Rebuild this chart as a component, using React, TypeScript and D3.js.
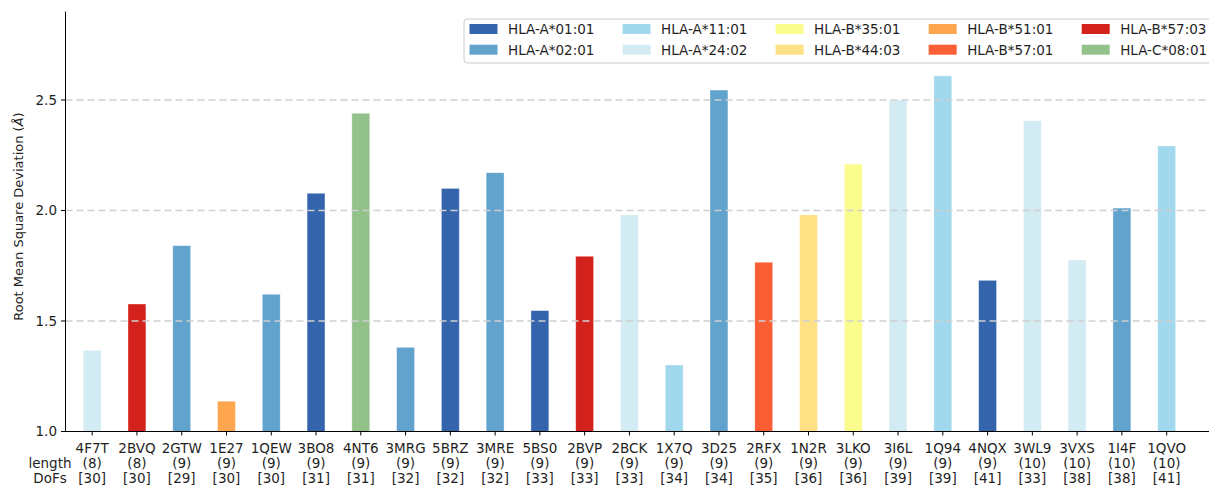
import React from "react";
import * as d3 from "d3";

const pdbIds = ["4F7T","2BVQ","2GTW","1E27","1QEW","3BO8","4NT6","3MRG","5BRZ","3MRE","5BS0","2BVP","2BCK","1X7Q","3D25","2RFX","1N2R","3LKO","3I6L","1Q94","4NQX","3WL9","3VXS","1I4F","1QVO"];
const lengths = [8,8,9,9,9,9,9,9,9,9,9,9,9,9,9,9,9,9,9,9,9,10,10,10,10];
const dofs = [30,30,29,30,30,31,31,32,32,32,33,33,33,34,34,35,36,36,39,39,41,33,38,38,41];
const rmsd = [1.367,1.577,1.841,1.137,1.621,2.078,2.440,1.381,2.100,2.171,1.547,1.793,1.980,1.301,2.545,1.766,1.980,2.210,2.500,2.609,1.684,2.406,1.776,2.011,2.292];
const alleles = ["HLA-A*24:02","HLA-B*57:03","HLA-A*02:01","HLA-B*51:01","HLA-A*02:01","HLA-A*01:01","HLA-C*08:01","HLA-A*02:01","HLA-A*01:01","HLA-A*02:01","HLA-A*01:01","HLA-B*57:03","HLA-A*24:02","HLA-A*11:01","HLA-A*02:01","HLA-B*57:01","HLA-B*44:03","HLA-B*35:01","HLA-A*24:02","HLA-A*11:01","HLA-A*01:01","HLA-A*24:02","HLA-A*24:02","HLA-A*02:01","HLA-A*11:01"];
const legendAlleles = ["HLA-A*01:01","HLA-A*02:01","HLA-A*11:01","HLA-A*24:02","HLA-B*35:01","HLA-B*44:03","HLA-B*51:01","HLA-B*57:01","HLA-B*57:03","HLA-C*08:01"];
const alleleColors = ["#3465ac","#62a3ce","#a2d8ee","#d3ebf2","#fafd8e","#fee085","#fda54f","#f95e34","#d3211c","#92c28a"];
const yTicks = [1.0, 1.5, 2.0, 2.5];

const W = 1209, H = 487;
const FONT = "'DejaVu Sans', sans-serif";
const TXT = "#1f1f1f";
const FS = 13.5;

export default function App() {
  const x = d3.scaleLinear().domain([-0.596, 25.4]).range([65.5, 65.5 + 25.996 * 44.77]);
  const y = d3.scaleLinear().domain([1.0, 2.9]).range([431.5, 11.6]);
  const color = d3.scaleOrdinal<string, string>().domain(legendAlleles).range(alleleColors);
  const bw = x(0.4) - x(0);
  const axisRight = W + 10;

  return (
    <svg width={W} height={H} style={{ position: "absolute", left: 0, top: 0, background: "#fff" }} fontFamily={FONT}>
      {rmsd.map((v, i) => (
        <rect key={pdbIds[i]} x={x(i) - bw / 2} y={y(v)} width={bw} height={y(1.0) - y(v)}
          fill={color(alleles[i])} stroke="#ffffff" strokeOpacity={0.45} strokeWidth={0.8} />
      ))}
      {yTicks.filter(t => t > 1.0).map(t => (
        <line key={t} x1={65.5} x2={axisRight} y1={y(t)} y2={y(t)} stroke="#d0d0d0" strokeWidth={1.5} strokeDasharray="7,4" />
      ))}
      <line x1={65.5} x2={65.5} y1={y(2.9)} y2={y(1.0) + 0.5} stroke="#000" strokeWidth={1} />
      <line x1={65} x2={axisRight} y1={y(1.0)} y2={y(1.0)} stroke="#000" strokeWidth={1} />
      {yTicks.map(t => (
        <g key={t}>
          <line x1={61} x2={65.5} y1={y(t)} y2={y(t)} stroke="#000" strokeWidth={1} />
          <text x={57} y={y(t) + 4.8} textAnchor="end" fontSize={FS} fill={TXT}>{t.toFixed(1)}</text>
        </g>
      ))}
      {pdbIds.map((id, i) => (
        <g key={id}>
          <line x1={x(i)} x2={x(i)} y1={y(1.0)} y2={y(1.0) + 4} stroke="#000" strokeWidth={1} />
          <text x={x(i)} y={453} textAnchor="middle" fontSize={FS} fill={TXT}>{id}</text>
          <text x={x(i)} y={468} textAnchor="middle" fontSize={FS} fill={TXT}>({lengths[i]})</text>
          <text x={x(i)} y={483} textAnchor="middle" fontSize={FS} fill={TXT}>[{dofs[i]}]</text>
        </g>
      ))}
      <text x={50} y={468} textAnchor="middle" fontSize={FS} fill={TXT}>length</text>
      <text x={50} y={483} textAnchor="middle" fontSize={FS} fill={TXT}>DoFs</text>
      <text transform={`translate(23, ${(y(1.0) + y(2.9)) / 2 - 5}) rotate(-90)`} textAnchor="middle" fontSize={13} fill={TXT}>
        Root Mean Square Deviation (<tspan fontStyle="italic">Å</tspan>)
      </text>
      <rect x={464} y={19} width={760} height={44} rx={3} fill="#fff" fillOpacity={0.85} stroke="#cccccc" strokeWidth={1} />
      {legendAlleles.map((a, k) => {
        const col = Math.floor(k / 2), row = k % 2;
        const lx = 469.5 + col * 153.05;
        const ly = 29 + row * 20.7;
        return (
          <g key={a}>
            <rect x={lx} y={ly - 5} width={28} height={10} fill={color(a)} />
            <text x={lx + 38.5} y={ly + 4.8} fontSize={FS} fill={TXT}>{a}</text>
          </g>
        );
      })}
    </svg>
  );
}
